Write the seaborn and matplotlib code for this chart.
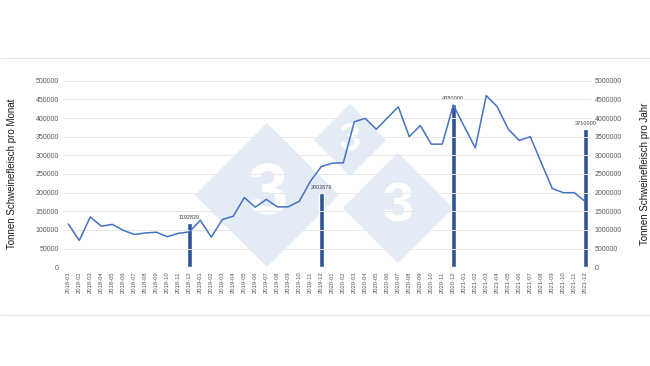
import numpy as np
import pandas as pd
import matplotlib
matplotlib.use("Agg")
import matplotlib.pyplot as plt
import matplotlib.patches as mpatches
import seaborn as sns

months = [f"{y}-{m:02d}" for y in range(2018, 2022) for m in range(1, 13)]
monthly = [116000, 72000, 135000, 110000, 115000, 99000, 88000, 92000, 94000, 82000, 91000, 95000,
           126000, 81000, 128000, 137000, 187000, 161000, 182000, 162000, 162000, 177000, 230000, 270000,
           279000, 280000, 390000, 399000, 370000, 400000, 430000, 350000, 380000, 330000, 330000, 435000,
           377000, 320000, 460000, 430000, 370000, 340000, 350000, 280000, 211000, 200000, 200000, 176000]
bar_months = ["2018-12", "2019-12", "2020-12", "2021-12"]
annual = [1192829, 2002679, 4380000, 3710000]

df = pd.DataFrame({"month": months, "monthly": monthly})
bar_map = dict(zip(bar_months, annual))
df["annual"] = [bar_map.get(m, np.nan) for m in months]

sns.set_theme(style="white")
plt.rcParams["font.family"] = ["Liberation Sans", "DejaVu Sans"]

fig = plt.figure(figsize=(6.5, 3.66), dpi=100)
fig.patch.set_facecolor("white")

# separator lines
fig.add_artist(plt.Line2D([0, 1], [1 - 58 / 366, 1 - 58 / 366], color="#e4e4e4", lw=0.8, transform=fig.transFigure))
fig.add_artist(plt.Line2D([0, 1], [1 - 315 / 366, 1 - 315 / 366], color="#e4e4e4", lw=0.8, transform=fig.transFigure))

# watermark diamonds
def diamond(cx, cy, r, fs):
    x = cx / 650
    y = 1 - cy / 366
    rx = r / 650
    ry = r / 366
    poly = mpatches.Polygon([[x, y + ry], [x + rx, y], [x, y - ry], [x - rx, y]], closed=True,
                            transform=fig.transFigure, facecolor="#e3ebf6", edgecolor="none", zorder=0)
    fig.add_artist(poly)
    fig.text(x, y, "3", color="white", fontsize=fs, fontweight="bold", ha="center", va="center", zorder=0.5)

diamond(267, 195, 72, 52)
diamond(350, 140, 36, 27)
diamond(398, 208, 55, 40)

left = 62.8 / 650
right = 590.8 / 650
bottom = (366 - 267.3) / 366
top = (366 - 80.7) / 366
ax = fig.add_axes([left, bottom, right - left, top - bottom])
ax2 = ax.twinx()

sns.barplot(data=df, x="month", y="annual", order=months, color="#2f5597", width=0.45,
            saturation=1, ax=ax2)
sns.lineplot(data=df, x="month", y="monthly", sort=False, color="#4472c4", lw=1.1, ax=ax)

ax.set_zorder(ax2.get_zorder() + 1)
ax.patch.set_visible(False)
ax2.patch.set_visible(False)

ax.set_xlim(-0.5, len(months) - 0.5)
ax.set_ylim(0, 500000)
ax2.set_ylim(0, 5000000)
ax.set_yticks(np.arange(0, 500001, 50000))
ax2.set_yticks(np.arange(0, 5000001, 500000))
ax.yaxis.grid(True, color="#e8e8e8", lw=0.7)
ax.set_axisbelow(True)

for a in (ax, ax2):
    for s in a.spines.values():
        s.set_visible(False)
    a.tick_params(length=0, labelsize=5, labelcolor="#595959", pad=3)

ax.set_xticks(range(len(months)))
ax.set_xticklabels(months, rotation=90, fontsize=4.2, color="#595959")
ax.set_xlabel("")
ax2.set_xlabel("")
ax.set_ylabel("Tonnen Schweinefleisch pro Monat", fontsize=7, color="#1a1a1a", labelpad=13)
ax2.set_ylabel("Tonnen Schweinefleisch pro Jahr", fontsize=7, color="#1a1a1a", labelpad=13)
ax.set_yticklabels([str(v) for v in range(0, 500001, 50000)])
ax2.set_yticklabels([str(v) for v in range(0, 5000001, 500000)])

for p in ax2.patches:
    h = p.get_height()
    if np.isfinite(h) and h > 0:
        ax2.annotate(str(int(round(h))), (p.get_x() + p.get_width() / 2, h),
                     xytext=(0, 2), textcoords="offset points", ha="center", va="bottom",
                     fontsize=4, color="#404040")

fig.savefig("out.png", dpi=100, facecolor="white")
